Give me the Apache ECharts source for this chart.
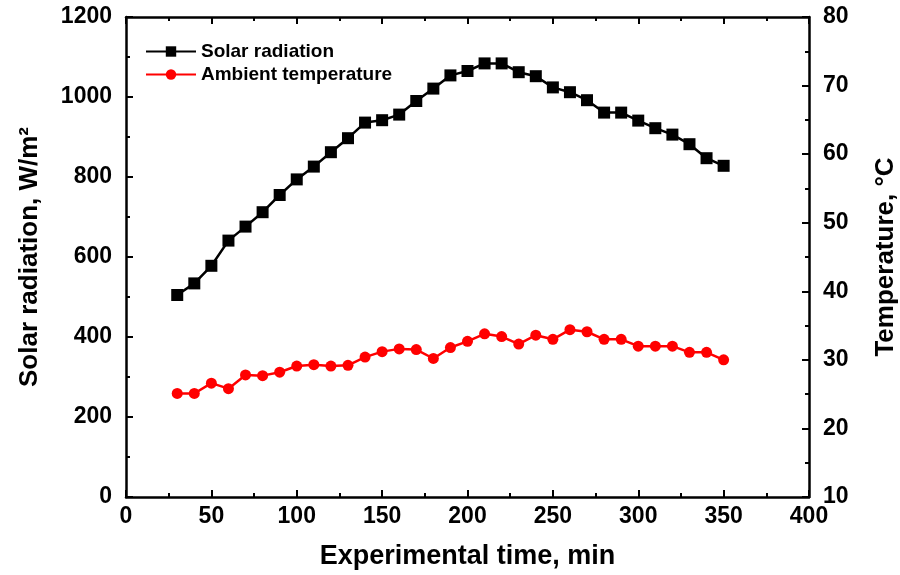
<!DOCTYPE html>
<html>
<head>
<meta charset="utf-8">
<script src="https://cdn.jsdelivr.net/npm/echarts@6/dist/echarts.min.js"></script>
<style>
  html, body { margin: 0; padding: 0; background: #fff; }
  #chart { width: 900px; height: 575px; }
</style>
</head>
<body>
<div id="chart"></div>
<script>
const time = [30, 40, 50, 60, 70, 80, 90, 100, 110, 120, 130, 140, 150, 160, 170, 180, 190, 200, 210, 220, 230, 240, 250, 260, 270, 280, 290, 300, 310, 320, 330, 340, 350];
const solarRadiation = [505, 534, 578, 641, 676, 712, 755, 794, 826, 862, 897, 936, 942, 956, 990, 1021, 1054, 1065, 1084, 1084, 1062, 1052, 1024, 1012, 992, 961, 961, 941, 922, 906, 882, 847, 828];
const ambientTemp = [25.1, 25.1, 26.6, 25.8, 27.8, 27.7, 28.2, 29.1, 29.3, 29.1, 29.2, 30.4, 31.2, 31.6, 31.5, 30.2, 31.8, 32.7, 33.8, 33.4, 32.3, 33.6, 33.0, 34.4, 34.1, 33.0, 33.0, 32.0, 32.0, 32.0, 31.1, 31.1, 30.0];

const font = 'Liberation Sans, Arial, sans-serif';
const axisLine = { show: true, onZero: false, lineStyle: { color: '#000', width: 2.5 } };
const tick = { show: true, inside: true, length: 7, lineStyle: { color: '#000', width: 2 } };
const minor = { show: true, splitNumber: 2, length: 4, lineStyle: { color: '#000', width: 2 } };
const label = { color: '#000', fontFamily: font, fontWeight: 'bold', fontSize: 23, formatter: v => String(v) };
const titleStyle = { color: '#000', fontFamily: font, fontWeight: 'bold', fontSize: 26 };

const chart = echarts.init(document.getElementById('chart'));
chart.setOption({
  backgroundColor: '#fff',
  animation: false,
  grid: { left: 126, right: 91, top: 17, bottom: 78, containLabel: false, outerBoundsMode: 'none' },
  legend: {
    orient: 'vertical',
    left: 140,
    top: 37,
    itemWidth: 50,
    itemHeight: 13,
    itemGap: 4,
    textStyle: { color: '#000', fontFamily: font, fontWeight: 'bold', fontSize: 19 },
    data: ['Solar radiation', 'Ambient temperature']
  },
  xAxis: [
    {
      type: 'value', min: 0, max: 400, interval: 50,
      name: 'Experimental time, min', nameLocation: 'middle', nameGap: 46,
      nameTextStyle: Object.assign({}, titleStyle, { fontSize: 27 }),
      axisLine: axisLine, axisTick: tick, minorTick: minor,
      axisLabel: Object.assign({ margin: 8 }, label),
      splitLine: { show: false }
    },
    {
      type: 'value', position: 'top', min: 0, max: 400, interval: 50,
      axisLine: axisLine, axisTick: tick, minorTick: minor,
      axisLabel: { show: false }, splitLine: { show: false }
    }
  ],
  yAxis: [
    {
      type: 'value', min: 0, max: 1200, interval: 200,
      name: 'Solar radiation, W/m²', nameLocation: 'middle', nameGap: 83,
      nameTextStyle: titleStyle,
      axisLine: axisLine, axisTick: tick, minorTick: minor,
      axisLabel: Object.assign({ margin: 14 }, label),
      splitLine: { show: false }
    },
    {
      type: 'value', position: 'right', min: 10, max: 80, interval: 10,
      name: 'Temperature, °C', nameLocation: 'middle', nameGap: 64,
      nameTextStyle: titleStyle,
      axisLine: axisLine, axisTick: tick, minorTick: minor,
      axisLabel: Object.assign({ margin: 14 }, label),
      splitLine: { show: false }
    }
  ],
  series: [
    {
      name: 'Solar radiation', type: 'line', yAxisIndex: 0,
      data: time.map((t, i) => [t, solarRadiation[i]]),
      symbol: 'rect', symbolSize: 12,
      itemStyle: { color: '#000' },
      lineStyle: { color: '#000', width: 2.5 }
    },
    {
      name: 'Ambient temperature', type: 'line', yAxisIndex: 1,
      data: time.map((t, i) => [t, ambientTemp[i]]),
      symbol: 'circle', symbolSize: 11,
      itemStyle: { color: '#ff0000' },
      lineStyle: { color: '#ff0000', width: 2.5 }
    }
  ]
});
</script>
</body>
</html>
